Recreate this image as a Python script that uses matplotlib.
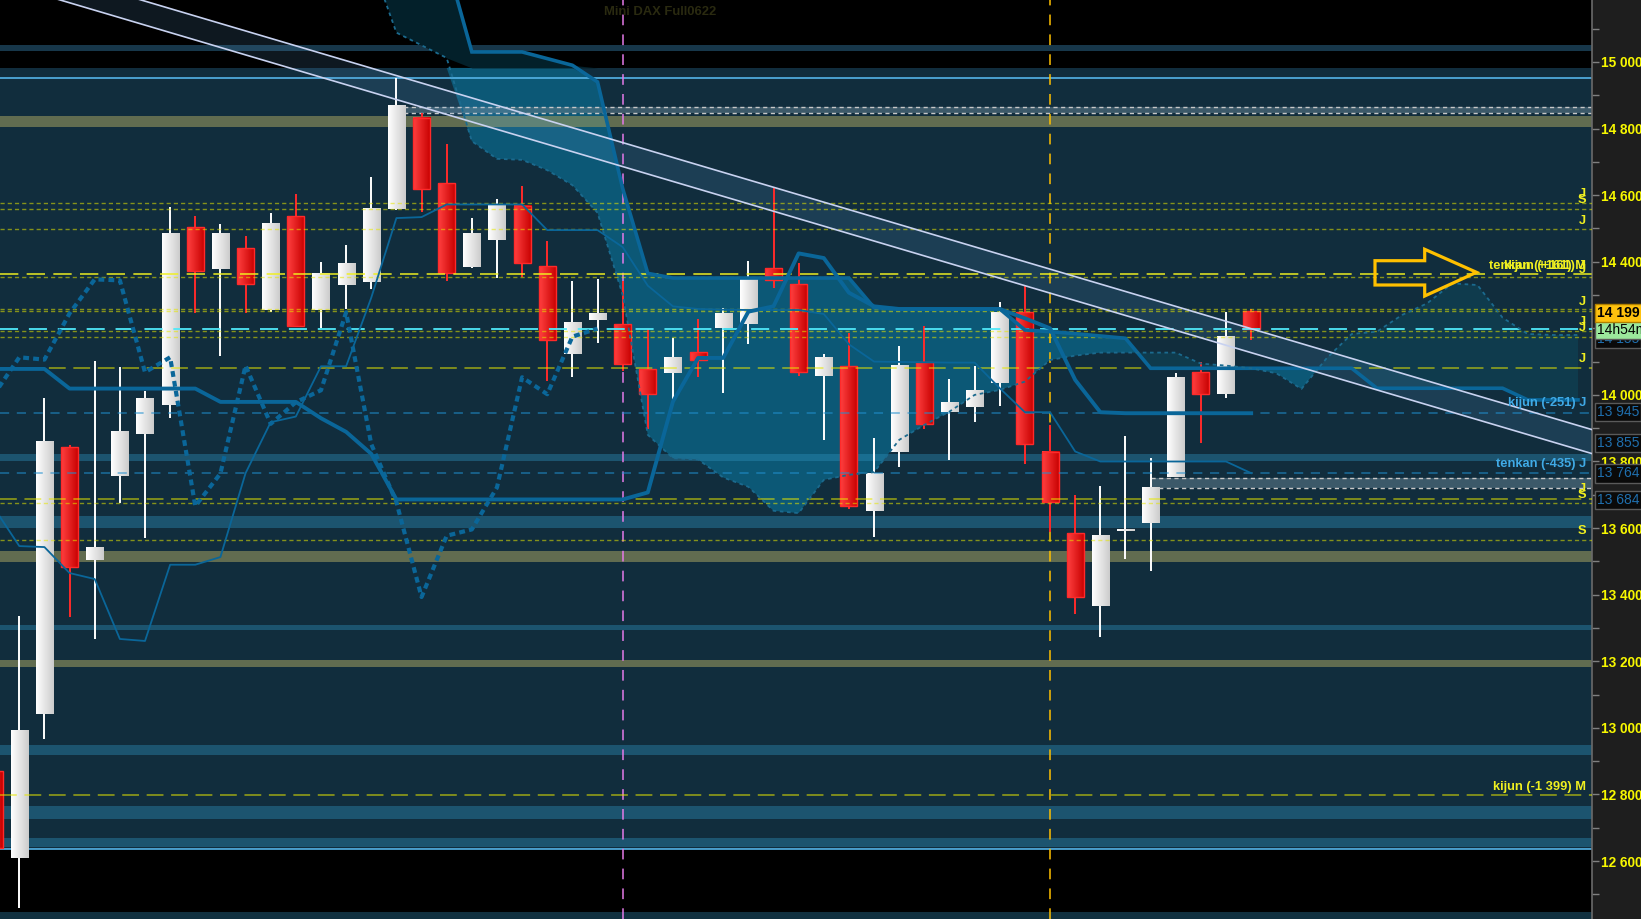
import numpy as np
import matplotlib
matplotlib.use("Agg")
import matplotlib.pyplot as plt
from matplotlib.patches import Polygon, Rectangle
from matplotlib.ticker import MultipleLocator, FuncFormatter
import matplotlib.transforms as mtransforms

plt.rcParams['font.family'] = ['Liberation Sans', 'DejaVu Sans']

# ---------------- data ----------------
opens = [12870, 12608, 13043, 13843, 13503, 13757, 13882, 13969, 14503, 14377,
         14441, 14256, 14536, 14256, 14329, 14340, 14559, 14831, 14635, 14385,
         14464, 14567, 14386, 14124, 14225, 14212, 14077, 14067, 14128, 14202,
         14212, 14380, 14332, 14058, 14086, 13650, 13829, 14098, 13950, 13963,
         14035, 14248, 13829, 13584, 13366, 13594, 13615, 13754, 14068, 14002,
         14251]
highs = [12900, 13337, 13992, 13851, 14101, 14083, 14011, 14564, 14536, 14513,
         14477, 14546, 14604, 14398, 14449, 14655, 14952, 14848, 14754, 14531,
         14587, 14627, 14462, 14342, 14347, 14342, 14198, 14170, 14227, 14260,
         14401, 14620, 14396, 14124, 14185, 13872, 14146, 14208, 14047, 14088,
         14278, 14327, 13909, 13698, 13726, 13876, 13810, 14065, 14098, 14248,
         14259]
lows = [12600, 12460, 12966, 13332, 13266, 13676, 13571, 13932, 14245, 14118,
        14245, 14248, 14207, 14202, 14258, 14319, 14554, 14548, 14343, 14380,
        14352, 14353, 14042, 14054, 14157, 14073, 13897, 13974, 14053, 14007,
        14154, 14322, 14058, 13866, 13658, 13574, 13782, 13897, 13806, 13920,
        13966, 13793, 13589, 13342, 13272, 13506, 13470, 13754, 13856, 13991,
        14166]
closes = [12640, 12991, 13861, 13483, 13541, 13890, 13989, 14485, 14373, 14484,
          14334, 14516, 14207, 14365, 14393, 14561, 14871, 14617, 14366, 14487,
          14572, 14395, 14166, 14218, 14245, 14093, 14002, 14113, 14106, 14245,
          14347, 14344, 14068, 14113, 13666, 13764, 14088, 13913, 13978, 14014,
          14248, 13852, 13678, 13393, 13577, 13596, 13722, 14053, 14002, 14175,
          14199]

tenkan = [13660, 13546, 13543, 13465, 13447, 13267, 13261, 13490, 13490, 13513,
          13765, 13918, 13935, 14086, 14086, 14292, 14531, 14534, 14572, 14572,
          14572, 14572, 14495, 14495, 14495, 14444, 14328, 14266, 14258, 14256,
          14255, 14255, 14255, 14243, 14152, 14100, 14099, 14098, 14097, 14097,
          14020, 13948, 13948, 13830, 13800, 13800, 13800, 13800, 13800, 13800,
          13765]
kijun = [14078, 14078, 14078, 14019, 14019, 14019, 14019, 14019, 14019, 13979,
         13979, 13979, 13979, 13930, 13889, 13823, 13686, 13686, 13686, 13686,
         13686, 13686, 13686, 13686, 13686, 13686, 13707, 13980, 14111, 14111,
         14250, 14266, 14425, 14411, 14307, 14266, 14258, 14258, 14258, 14258,
         14258, 14230, 14200, 14045, 13948, 13945, 13945, 13945, 13945, 13945,
         13945]
span_start = 15
senkou_a = [15300, 15088, 15050, 15012, 14762, 14709, 14706, 14675, 14630, 14547,
            14300, 13880, 13810, 13806, 13752, 13724, 13652, 13645, 13745, 13760,
            13768, 13865, 13910, 13950, 14000, 14015, 14040, 14105, 14118, 14127,
            14127, 14127, 14127, 14094, 14088, 14080, 14065, 14018, 14110, 14183,
            14190, 14240, 14275, 14335, 14330, 14232, 14183, 14180, 14180]
senkou_b = [15300, 15300, 15300, 15300, 15030, 15030, 15030, 15010, 14990, 14940,
            14620, 14365, 14351, 14351, 14351, 14351, 14351, 14351, 14351, 14351,
            14262, 14258, 14258, 14258, 14258, 14258, 14195, 14190, 14184, 14177,
            14170, 14080, 14080, 14080, 14080, 14080, 14080, 14080, 14080, 14080,
            14020, 14020, 14020, 14020, 14020, 14020, 13985, 13985, 13985]
chikou_shift = 26

# levels
olive_dash_levels = [14576, 14558, 14497, 14353, 14259, 14253, 14192, 14174, 13674, 13564]
yellow_long_levels = [14081, 13686, 12798]
bright_level = 14363
blue_levels = [13945, 13764]
teal_bands = [(13802, 13823), (13601, 13637), (13294, 13309), (12919, 12949),
              (12727, 12766), (12643, 12670)]
olive_bands = [(14805, 14838), (13499, 13532), (13183, 13204)]
gray_bands = [(14846, 14866, 16), (13721, 13751, 46)]
zone = (12637, 14982)
zone_lines = [14953, 12637]
top_band = (15033, 15050)
bottom_band = (12380, 12447)
vlines_events = [(25, '#e47ae8'), (42, '#ffc000')]
chan_upper = [(16, 14959), (63.5, 13897)]
chan_lower = [(16, 14887), (63.5, 13825)]

level_labels = [
    ("J", 14603, '#f0f020'), ("S", 14586, '#f0f020'), ("J", 14523, '#f0f020'),
    ("tenkan (+161) M", 14387, '#f0f020'), ("kijun (+161) J", 14387, '#f0f020'),
    ("J", 14375, '#f0f020'), ("J", 14280, '#f0f020'), ("J", 14219, '#f0f020'),
    ("J", 14201, '#f0f020'), ("J", 14108, '#f0f020'),
    ("kijun (-251) J", 13976, '#40aae6'), ("tenkan (-435) J", 13793, '#40aae6'),
    ("J", 13718, '#f0f020'), ("S", 13700, '#f0f020'), ("S", 13592, '#f0f020'),
    ("kijun (-1 399) M", 12823, '#f0f020'),
]
axis_boxes = [("13 945", 13948), ("13 855", 13855), ("13 764", 13764), ("13 684", 13684)]
title = "Mini DAX Full0622"

# ---------------- figure ----------------
W, H = 1641, 919
AXR = 1592
fig = plt.figure(figsize=(W / 100, H / 100), dpi=100, facecolor='#1e1e1e')
ax = fig.add_axes([0, 0, AXR / W, 1])
ax.set_facecolor('black')
XMIN, XMAX = 0.2323, 63.557
YMIN, YMAX = 12426, 15186

n = len(opens)
xs = np.arange(n)

# zone backgrounds
ax.axhspan(zone[0], zone[1], color='#112d3d', zorder=0.2, lw=0)
ax.axhspan(*top_band, color='#17374a', zorder=0.2, lw=0)
ax.axhspan(*bottom_band, color='#10303f', zorder=0.2, lw=0)

# cloud
sx = np.arange(span_start, span_start + len(senkou_a))
A = np.array(senkou_a, float)
B = np.array(senkou_b, float)
top = zone[1]
Ai, Bi = np.minimum(A, top), np.minimum(B, top)
ax.fill_between(sx, Ai, Bi, where=B >= A, interpolate=True, color='#0c5876', lw=0, zorder=1)
ax.fill_between(sx, Ai, Bi, where=A > B, interpolate=True, color='#0f3b4d', lw=0, zorder=1)
ax.fill_between(sx, np.maximum(A, top), np.maximum(B, top), color='#03202a', lw=0, zorder=1)

# bands
for lo, hi in teal_bands:
    ax.axhspan(lo, hi, color='#2f91bc', alpha=0.4, lw=0, zorder=2)
for lo, hi in olive_bands:
    ax.axhspan(lo, hi, color='#93945d', alpha=0.62, lw=0, zorder=2)
for lo, hi, st in gray_bands:
    ax.add_patch(Rectangle((st, lo), XMAX + 2 - st, hi - lo, facecolor='#5a7888',
                           alpha=0.6, lw=0, zorder=2.1))
    ax.hlines([lo, hi], st, XMAX + 2, colors='#c8c8c8', lw=1.0,
              linestyles=(0, (3, 2.5)), zorder=2.2)
for yv in zone_lines:
    ax.axhline(yv, color='#55b4e8', lw=1.2, zorder=2.3)

# channel
def chan_y(anc, xv):
    (x0, y0), (x1, y1) = anc
    return y0 + (xv - x0) * (y1 - y0) / (x1 - x0)

cx = np.array([-2.0, 66.0])
ax.fill_between(cx, chan_y(chan_upper, cx), chan_y(chan_lower, cx),
                color='#61a5dd', alpha=0.15, lw=0, zorder=2.5)

# vertical event lines
for xe, col in vlines_events:
    ax.axvline(xe, color=col, lw=1.1, linestyle=(0, (7, 6)), zorder=3)

# candles
body_w = 0.68
white_grad = np.linspace([1.0, 1.0, 1.0], [0.80, 0.80, 0.80], 24)[None, :, :]
red_grad = np.linspace([1.0, 0.25, 0.25], [0.78, 0.0, 0.0], 24)[None, :, :]
for i in range(n):
    o, h, l, c = opens[i], highs[i], lows[i], closes[i]
    up = c >= o
    wcol = 'white' if up else '#ff2a2a'
    ax.vlines(i, l, h, colors=wcol, lw=1.4, zorder=5)
    lo, hi = min(o, c), max(o, c)
    if hi - lo < 6:
        mid = (hi + lo) / 2
        lo, hi = mid - 3, mid + 3
    ax.imshow(white_grad if up else red_grad,
              extent=(i - body_w / 2, i + body_w / 2, lo, hi),
              aspect='auto', interpolation='bilinear', zorder=5.5)
    if not up:
        ax.add_patch(Rectangle((i - body_w / 2, lo), body_w, hi - lo, fill=False,
                               edgecolor='#ff2a2a', lw=1.0, zorder=5.6))

# level lines (semi transparent over candles)
for yv in olive_dash_levels:
    ax.axhline(yv, color='#e6e600', alpha=0.55, lw=1.0, linestyle=(0, (3, 2.2)), zorder=7)
for yv in yellow_long_levels:
    ax.axhline(yv, color='#e6e600', alpha=0.65, lw=1.1, linestyle=(0, (11, 5)), zorder=7)
ax.axhline(bright_level, color='#f0f020', alpha=0.9, lw=1.2, linestyle=(0, (11, 5)), zorder=7)
for yv in blue_levels:
    ax.axhline(yv, color='#2090d0', alpha=0.65, lw=1.1, linestyle=(0, (6, 5)), zorder=7)
ax.axhline(closes[-1], color='#50e8f8', lw=1.3, linestyle=(0, (10, 6)), zorder=7)

# ichimoku lines
ichi = '#0a6699'
ax.plot(sx, B, color=ichi, lw=2.6, zorder=8, solid_joinstyle='miter')
ax.plot(sx, A, color='#1b6a8e', lw=1.3, linestyle=(0, (2, 2)), zorder=8)
ax.plot(xs, tenkan, color=ichi, lw=1.3, zorder=8)
ax.plot(xs, kijun, color=ichi, lw=2.8, zorder=8)
ch_x = xs[:n - chikou_shift]
ax.plot(ch_x, closes[chikou_shift:], color=ichi, lw=3.0, linestyle=(0, (1.4, 1.0)), zorder=8)

# channel lines
ax.plot(cx, chan_y(chan_upper, cx), color='#c8d2f0', lw=1.2, zorder=8.5)
ax.plot(cx, chan_y(chan_lower, cx), color='#c8d2f0', lw=1.2, zorder=8.5)

# arrow annotation (axes fraction)
arrow_px = [(1375, 260.7), (1424.7, 260.7), (1424.7, 249.3), (1476.5, 272.3),
            (1424.7, 296), (1424.7, 285), (1375, 285)]
arrow_ax = [(px / AXR, 1 - py / H) for px, py in arrow_px]
ax.add_patch(Polygon(arrow_ax, closed=True, fill=False, edgecolor='#ffc000', lw=2.3,
                     transform=ax.transAxes, zorder=9, joinstyle='miter'))

# level labels
btr = mtransforms.blended_transform_factory(ax.transAxes, ax.transData)
for txt, yv, col in level_labels:
    ax.text(1586 / AXR, yv, txt, transform=btr, ha='right', va='center',
            color=col, fontsize=9.3, fontweight='bold', zorder=10)

# title
ax.text(660 / AXR, 1 - 12 / H, title, transform=ax.transAxes, ha='center', va='center',
        color='#2a2a10', fontsize=9.4, fontweight='bold', zorder=10)

# axes / ticks
ax.set_xlim(XMIN, XMAX)
ax.set_ylim(YMIN, YMAX)
ax.xaxis.set_visible(False)
ax.yaxis.tick_right()
ax.yaxis.set_major_locator(MultipleLocator(200))
ax.yaxis.set_minor_locator(MultipleLocator(100))
ax.yaxis.set_major_formatter(FuncFormatter(lambda v, p: f"{int(round(v)):,}".replace(",", " ")))
ax.tick_params(axis='y', which='both', direction='out', length=5, width=1, color='#808080',
               pad=1.5, labelsize=9.8, labelcolor='#f8f800')
for lab in ax.get_yticklabels():
    lab.set_fontweight('bold')
for s in ['top', 'left', 'bottom']:
    ax.spines[s].set_visible(False)
ax.spines['right'].set_color('#6a6a6a')
ax.spines['right'].set_linewidth(1.2)

# partial top tick label
ax.text(1.0 + 6 / AXR, 15200, "15 200", transform=btr, ha='left', va='center',
        color='#f8f800', fontsize=9.8, fontweight='bold', clip_on=False)

# axis price boxes
bx = 1.0 + 5 / AXR
box_fs = 10.0
for txt, yv in axis_boxes:
    ax.text(bx, yv, txt, transform=btr, ha='left', va='center', color='#1f6fae',
            fontsize=box_fs, clip_on=False, zorder=11,
            bbox=dict(boxstyle='square,pad=0.15', fc='#0a0a0a', ec='#5a5a5a', lw=1))
ax.text(bx, 14168, "14 155", transform=btr, ha='left', va='center', color='#1f6fae',
        fontsize=box_fs, clip_on=False, zorder=11,
        bbox=dict(boxstyle='square,pad=0.15', fc='#0a0a0a', ec='#5a5a5a', lw=1))
ax.text(bx, 14195, "14h54m", transform=btr, ha='left', va='center', color='black',
        fontsize=box_fs, clip_on=False, zorder=12,
        bbox=dict(boxstyle='square,pad=0.15', fc='#9be89b', ec='#5a5a5a', lw=1))
ax.text(bx, 14247, "14 199", transform=btr, ha='left', va='center', color='black',
        fontsize=box_fs, fontweight='bold', clip_on=False, zorder=12,
        bbox=dict(boxstyle='square,pad=0.15', fc='#ffc20e', ec='#b08000', lw=1))

fig.savefig('out.png', dpi=100, facecolor=fig.get_facecolor())
